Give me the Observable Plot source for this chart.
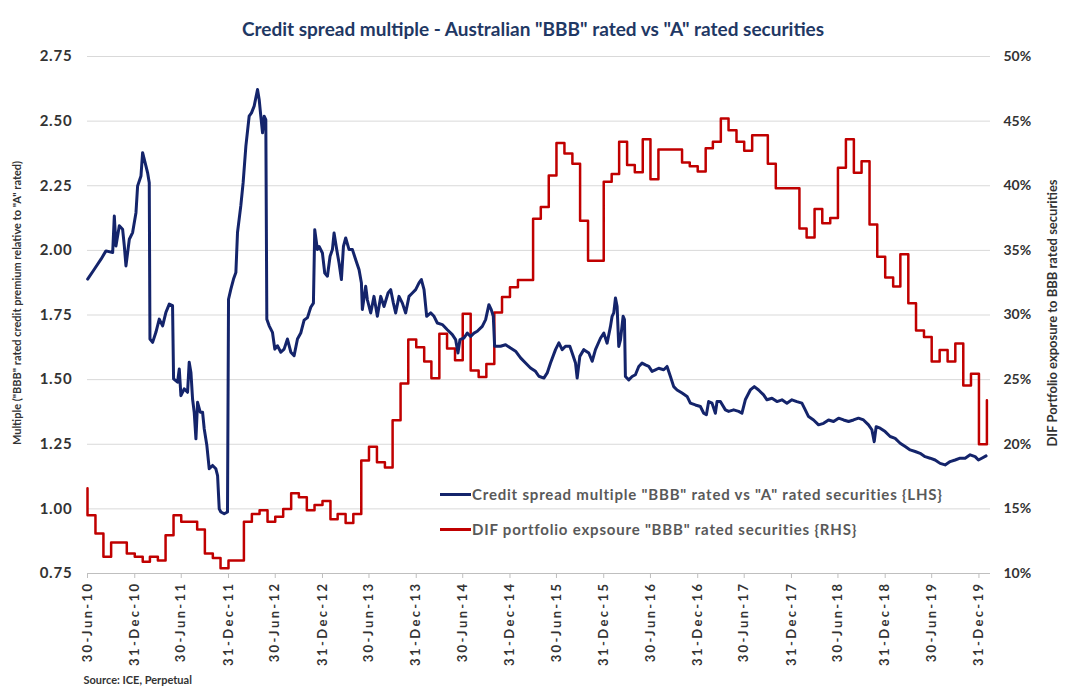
<!DOCTYPE html>
<html><head><meta charset="utf-8">
<script src="https://cdn.jsdelivr.net/npm/d3@7"></script>
<script src="https://cdn.jsdelivr.net/npm/@observablehq/plot@0.6"></script>
<style>
body{margin:0;background:#fff;}
#wrap{position:relative;width:1066px;height:689px;overflow:hidden;}
.legend{position:absolute;font-family:Lato,sans-serif;font-weight:700;font-size:15px;letter-spacing:0.8px;color:#595959;display:flex;align-items:center;white-space:nowrap;height:20px;}
.legend .sw{display:inline-block;width:31px;height:3px;margin-right:1px;}
g[aria-label="x-axis tick label"] text{letter-spacing:2.4px;}
g[aria-label="y-axis tick label"] text{letter-spacing:0.8px;}
</style></head>
<body><div id="wrap"></div>
<script>
const title = 'Credit spread multiple - Australian "BBB" rated vs "A" rated securities';
const leftLabel = 'Multiple ("BBB" rated credit premium relative to "A" rated)';
const rightLabel = 'DIF Portfolio exposure to BBB rated securities';
const source = 'Source: ICE, Perpetual';
const blueName = 'Credit spread multiple "BBB" rated vs "A" rated securities {LHS}';
const redName = 'DIF portfolio expsoure "BBB" rated securities {RHS}';

const leftTicks = [0.75, 1.00, 1.25, 1.50, 1.75, 2.00, 2.25, 2.50, 2.75];
const rightTicks = [10, 15, 20, 25, 30, 35, 40, 45, 50];
const xTickLabels = ["30-Jun-10","31-Dec-10","30-Jun-11","31-Dec-11","30-Jun-12","31-Dec-12","30-Jun-13","31-Dec-13","30-Jun-14","31-Dec-14","30-Jun-15","31-Dec-15","30-Jun-16","31-Dec-16","30-Jun-17","31-Dec-17","30-Jun-18","31-Dec-18","30-Jun-19","31-Dec-19"];

// Credit spread multiple (LHS): time in months after 30-Jun-2010, value
const blueMonth = [0.02,0.87,1.73,2.36,3.22,3.43,3.64,4.07,4.49,4.71,4.92,5.35,5.77,6.2,6.41,6.84,7.05,7.48,7.69,7.9,7.99,8.33,8.75,9.18,9.61,10.03,10.46,10.88,11.01,11.52,11.74,11.95,12.37,12.8,13.01,13.23,13.44,13.65,13.87,14.08,14.42,14.72,14.93,15.27,15.57,16.0,16.42,16.64,16.85,17.06,17.49,17.91,18.04,18.34,18.68,18.98,19.19,19.61,19.91,20.26,20.68,20.98,21.32,21.75,21.96,22.17,22.39,22.6,22.81,22.94,23.24,23.66,23.96,24.3,24.73,25.15,25.58,26.01,26.43,26.86,27.28,27.71,28.14,28.56,28.9,29.07,29.41,29.63,30.05,30.35,30.69,31.03,31.33,31.54,31.88,32.18,32.48,32.74,33.03,33.46,33.89,34.31,34.74,35.04,35.16,35.59,35.8,36.23,36.65,37.08,37.51,37.93,38.45,38.79,39.13,39.42,39.85,40.28,40.7,41.13,41.56,41.98,42.41,42.71,43.05,43.39,43.9,44.33,44.75,45.39,46.03,46.67,47.09,47.39,47.65,48.16,48.58,49.01,49.44,49.86,50.5,50.93,51.35,51.65,51.91,52.08,52.84,53.48,54.12,54.76,55.4,56.04,56.67,57.31,57.74,58.38,58.81,59.23,59.87,60.3,60.72,61.15,61.7,62.0,62.43,62.64,62.98,63.49,64.13,64.56,64.98,65.62,66.05,66.47,66.9,67.11,67.32,67.54,67.75,67.96,68.18,68.52,68.69,68.81,69.24,69.67,70.09,70.52,70.94,71.37,71.8,72.22,72.65,73.07,73.71,74.14,74.57,74.99,75.42,76.06,76.7,77.12,77.76,78.4,78.83,79.17,79.46,79.89,80.32,80.53,80.96,81.6,82.02,82.66,83.3,83.72,84.15,84.79,85.3,85.85,86.49,86.92,87.56,88.2,88.84,89.47,90.11,90.75,91.39,91.82,92.24,92.88,93.52,94.16,94.8,95.44,96.08,96.72,97.36,97.99,98.63,99.27,99.91,100.34,100.64,100.89,101.4,102.04,102.68,103.32,103.96,104.6,105.24,105.88,106.51,107.15,107.79,108.43,109.07,109.71,110.35,110.99,111.63,112.27,112.91,113.55,113.97,114.4,114.95];
const blueValue = [1.889,1.927,1.966,1.998,1.992,2.133,2.017,2.095,2.082,2.017,1.94,2.043,2.069,2.146,2.249,2.288,2.378,2.326,2.30,2.262,1.657,1.644,1.683,1.734,1.708,1.76,1.792,1.786,1.503,1.49,1.541,1.438,1.464,1.451,1.567,1.528,1.425,1.374,1.271,1.412,1.374,1.374,1.31,1.245,1.155,1.168,1.155,1.129,1.0,0.988,0.981,0.988,1.811,1.85,1.889,1.914,2.069,2.172,2.262,2.403,2.519,2.532,2.558,2.622,2.584,2.519,2.455,2.519,2.506,1.734,1.708,1.683,1.618,1.631,1.606,1.618,1.657,1.606,1.593,1.657,1.68,1.73,1.74,1.78,1.796,2.08,2.003,2.015,1.99,1.912,1.9,1.977,2.003,2.067,2.003,1.951,1.887,2.015,2.048,2.003,2.003,1.964,1.925,1.874,1.771,1.861,1.809,1.758,1.822,1.745,1.822,1.783,1.835,1.848,1.796,1.758,1.822,1.796,1.758,1.822,1.835,1.848,1.874,1.887,1.848,1.745,1.758,1.745,1.719,1.713,1.693,1.674,1.655,1.603,1.655,1.661,1.68,1.667,1.68,1.687,1.706,1.732,1.79,1.771,1.745,1.629,1.629,1.635,1.622,1.61,1.584,1.564,1.545,1.532,1.513,1.506,1.526,1.564,1.616,1.642,1.616,1.629,1.629,1.603,1.564,1.506,1.59,1.616,1.603,1.571,1.616,1.66,1.68,1.641,1.706,1.745,1.758,1.816,1.783,1.628,1.654,1.745,1.732,1.512,1.499,1.512,1.519,1.551,1.564,1.557,1.551,1.532,1.538,1.544,1.538,1.551,1.512,1.473,1.46,1.448,1.435,1.409,1.402,1.396,1.37,1.364,1.415,1.409,1.37,1.415,1.415,1.383,1.377,1.383,1.377,1.37,1.422,1.46,1.473,1.46,1.441,1.422,1.428,1.415,1.422,1.409,1.422,1.415,1.409,1.383,1.357,1.344,1.325,1.331,1.344,1.338,1.351,1.344,1.338,1.344,1.351,1.344,1.325,1.306,1.26,1.318,1.312,1.299,1.28,1.273,1.254,1.241,1.228,1.222,1.215,1.202,1.196,1.189,1.176,1.17,1.183,1.189,1.196,1.196,1.209,1.202,1.189,1.196,1.205];

// DIF portfolio exposure (RHS, %): value on 30-Jun-2010, then month-end values from Jun-2010 to Jan-2020
const redFirst = 16.6;
const redValues = [14.5,13.1,11.3,12.4,12.4,11.55,11.3,10.9,11.3,11.0,12.95,14.5,14.0,14.0,13.4,11.55,11.2,10.4,11.0,11.0,14.0,14.6,14.9,14.0,14.4,15.0,16.2,15.9,14.9,15.3,15.6,14.2,14.6,13.9,14.6,18.75,19.8,18.6,18.2,21.85,24.7,28.1,27.5,26.4,25.1,28.55,27.4,26.5,30.1,25.7,25.2,26.2,30.2,31.4,32.15,32.7,32.7,37.45,38.35,40.8,43.3,42.5,41.7,37.3,34.2,34.2,40.3,40.9,43.4,41.6,41.05,43.6,40.5,42.8,42.8,42.8,41.8,41.5,41.1,42.9,43.4,45.2,44.3,43.4,42.7,43.9,43.9,41.7,39.8,39.8,39.8,36.7,36.0,38.2,37.1,37.5,41.4,43.6,41.0,41.9,37.0,34.5,32.9,32.2,34.7,30.9,28.8,28.3,26.4,27.3,26.4,27.8,24.55,25.45,20.0,23.4];

const BASE = Date.UTC(2010, 5, 30);
const DAY = 864e5;
const blue = blueMonth.map((m, i) => ({date: new Date(BASE + m * 30.4375 * DAY), v: blueValue[i]}));
const monthEnd = i => d3.utcDay.offset(d3.utcMonth.offset(new Date(Date.UTC(2010, 6, 1)), i), -1);
const red = [{date: monthEnd(0), v: redFirst}].concat(redValues.map((v, i) => ({date: monthEnd(i), v})));
const pctToLeft = p => 0.75 + (p - 10) * 0.05;
const parseTick = d3.utcParse("%d-%b-%y");
const xTicks = xTickLabels.map(parseTick);
const BLUE = "#14246b", RED = "#c00000";

const chart = Plot.plot({
  width: 1066, height: 689,
  marginTop: 56, marginBottom: 116, marginLeft: 87, marginRight: 76,
  x: {type: "utc", domain: [new Date(BASE), new Date(Date.UTC(2020, 1, 14))]},
  y: {domain: [0.75, 2.75]},
  style: {fontFamily: "Lato, sans-serif", color: "#333333", background: "#fff"},
  marks: [
    Plot.ruleY(leftTicks.slice(1), {stroke: "#d9d9d9", strokeWidth: 1}),
    Plot.ruleY([0.75], {stroke: "#bfbfbf", strokeWidth: 1}),
    Plot.axisY({ticks: leftTicks, tickFormat: d3.format(".2f"), tickSize: 0, tickPadding: 15, fontSize: 15, fontWeight: "bold", label: null}),
    Plot.text(rightTicks, {y: pctToLeft, text: d => d + "%", frameAnchor: "right", dx: 13, textAnchor: "start", fontSize: 14, fontWeight: "bold"}),
    Plot.axisX({ticks: xTicks, tickFormat: d3.utcFormat("%d-%b-%y"), tickRotate: -90, tickSize: 5, tickPadding: 3, fontSize: 13, fontWeight: "bold", label: null, stroke: "#bfbfbf"}),
    Plot.line(red, {x: "date", y: d => pctToLeft(d.v), stroke: RED, strokeWidth: 2.5, curve: "step-after"}),
    Plot.line(blue, {x: "date", y: "v", stroke: BLUE, strokeWidth: 3}),
    Plot.text([title], {frameAnchor: "top", dx: -6, dy: -34, fontSize: 19, fontWeight: "bold", fill: "#1f3864", letterSpacing: 0.2}),
    Plot.text([leftLabel], {frameAnchor: "left", textAnchor: "middle", dx: -70, dy: -12, rotate: -90, fontSize: 11, fontWeight: "bold"}),
    Plot.text([rightLabel], {frameAnchor: "right", textAnchor: "middle", dx: 62, dy: -2, rotate: -90, fontSize: 13, fontWeight: "bold"}),
    Plot.text([source], {frameAnchor: "bottom-left", dx: -4, dy: 110, textAnchor: "start", fontSize: 11, fontWeight: "bold"})
  ]
});
const wrap = document.getElementById("wrap");
wrap.appendChild(chart);
[[blueName, BLUE, 484], [redName, RED, 519]].forEach(([name, color, top]) => {
  const d = document.createElement("div");
  d.className = "legend";
  d.style.left = "440px";
  d.style.top = top + "px";
  const sw = document.createElement("span");
  sw.className = "sw";
  sw.style.background = color;
  d.appendChild(sw);
  d.appendChild(document.createTextNode(name));
  wrap.appendChild(d);
});
</script>
</body></html>
